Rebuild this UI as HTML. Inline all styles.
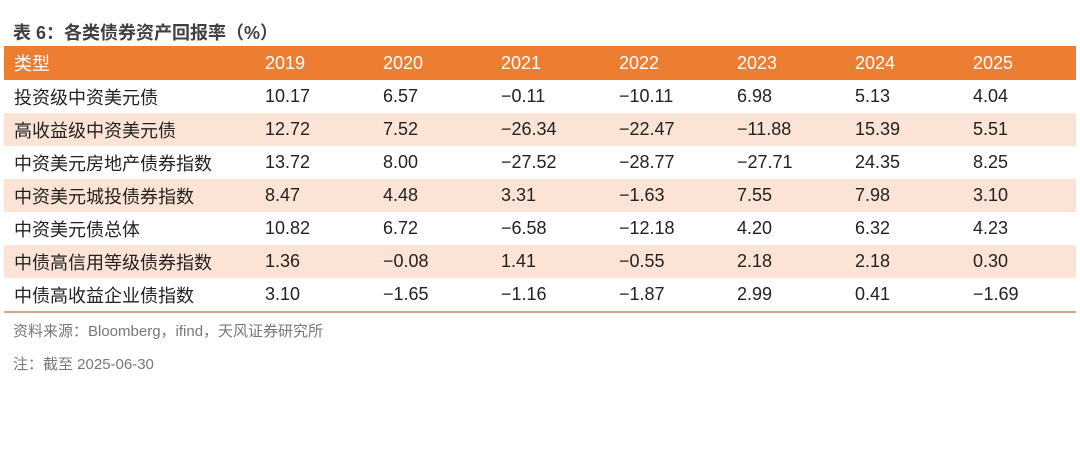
<!DOCTYPE html>
<html><head><meta charset="utf-8"><style>
body{margin:0;background:#fff;width:1080px;height:467px;overflow:hidden;font-family:"Liberation Sans","Noto Sans CJK SC",sans-serif;}
.title{position:absolute;left:13px;top:19px;font-size:18px;font-weight:bold;color:#404040;}
table{position:absolute;left:4px;top:46px;width:1072px;border-collapse:collapse;table-layout:fixed;}
td,th{height:33px;padding:0 0 0 3px;font-size:18px;color:#222;text-align:left;font-weight:normal;white-space:nowrap;}
th{background:#ed7d31;color:#fff;height:34px;}
td:first-child,th:first-child{padding-left:10px;}
tbody tr:nth-child(even) td{background:#fbe4d5;}
tbody tr:last-child td{border-bottom:2px solid #d9a57c;}
.src{position:absolute;left:13px;top:320px;font-size:15px;color:#777;}
.note{position:absolute;left:13px;top:353px;font-size:15px;color:#777;}
</style></head><body>
<div class="title">表 6：各类债券资产回报率（%）</div>
<table>
<colgroup><col style="width:258px"><col style="width:118px"><col style="width:118px"><col style="width:118px"><col style="width:118px"><col style="width:118px"><col style="width:118px"><col style="width:106px"></colgroup>
<thead><tr><th>类型</th><th>2019</th><th>2020</th><th>2021</th><th>2022</th><th>2023</th><th>2024</th><th>2025</th></tr></thead>
<tbody>
<tr><td>投资级中资美元债</td><td>10.17</td><td>6.57</td><td>−0.11</td><td>−10.11</td><td>6.98</td><td>5.13</td><td>4.04</td></tr>
<tr><td>高收益级中资美元债</td><td>12.72</td><td>7.52</td><td>−26.34</td><td>−22.47</td><td>−11.88</td><td>15.39</td><td>5.51</td></tr>
<tr><td>中资美元房地产债券指数</td><td>13.72</td><td>8.00</td><td>−27.52</td><td>−28.77</td><td>−27.71</td><td>24.35</td><td>8.25</td></tr>
<tr><td>中资美元城投债券指数</td><td>8.47</td><td>4.48</td><td>3.31</td><td>−1.63</td><td>7.55</td><td>7.98</td><td>3.10</td></tr>
<tr><td>中资美元债总体</td><td>10.82</td><td>6.72</td><td>−6.58</td><td>−12.18</td><td>4.20</td><td>6.32</td><td>4.23</td></tr>
<tr><td>中债高信用等级债券指数</td><td>1.36</td><td>−0.08</td><td>1.41</td><td>−0.55</td><td>2.18</td><td>2.18</td><td>0.30</td></tr>
<tr><td>中债高收益企业债指数</td><td>3.10</td><td>−1.65</td><td>−1.16</td><td>−1.87</td><td>2.99</td><td>0.41</td><td>−1.69</td></tr>
</tbody></table>
<div class="src">资料来源：Bloomberg，ifind，天风证券研究所</div>
<div class="note">注：截至 2025-06-30</div>
</body></html>
